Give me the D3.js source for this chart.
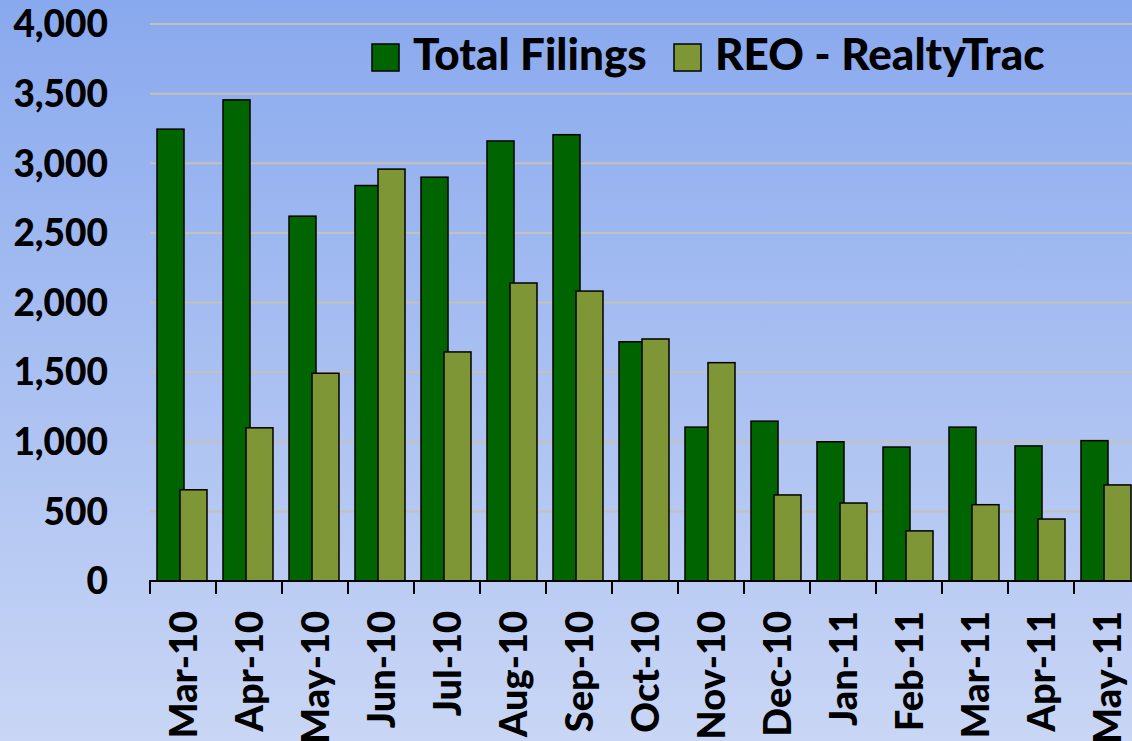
<!DOCTYPE html>
<html>
<head>
<script src="https://d3js.org/d3.v7.min.js"></script>
<style>
  body { margin: 0; overflow: hidden; }
  svg { display: block; font-family: Lato, "Open Sans", sans-serif; font-weight: 900; }
</style>
</head>
<body>
<script>
const months = ["Mar-10", "Apr-10", "May-10", "Jun-10", "Jul-10", "Aug-10", "Sep-10", "Oct-10",
                "Nov-10", "Dec-10", "Jan-11", "Feb-11", "Mar-11", "Apr-11", "May-11"];
const totalFilings = [3245, 3455, 2620, 2840, 2900, 3160, 3205, 1718, 1105, 1148, 1000, 962, 1105, 970, 1008];
const reoRealtyTrac = [655, 1100, 1492, 2958, 1645, 2140, 2082, 1738, 1568, 618, 560, 360, 548, 445, 690];
const yTicks = [0, 500, 1000, 1500, 2000, 2500, 3000, 3500, 4000];
const seriesNames = ["Total Filings", "REO - RealtyTrac"];
const colors = ["#006400", "#7f9636"];

const width = 1132, height = 741;
const plotLeft = 150, plotBottom = 581, plotTop = 24;

const svg = d3.select("body").append("svg")
    .attr("width", width)
    .attr("height", height);

const grad = svg.append("defs").append("linearGradient")
    .attr("id", "bg").attr("x1", 0).attr("y1", 0).attr("x2", 0).attr("y2", 1);
grad.append("stop").attr("offset", "0%").attr("stop-color", "#89a9ee");
grad.append("stop").attr("offset", "100%").attr("stop-color", "#c9d6f5");

svg.append("rect").attr("width", width).attr("height", height).attr("fill", "url(#bg)");

const x = d3.scaleBand()
    .domain(months)
    .range([plotLeft, plotLeft + 66 * months.length]);

const y = d3.scaleLinear()
    .domain([0, 4000])
    .range([plotBottom, plotTop]);

// gridlines
svg.append("g")
  .selectAll("line")
  .data(yTicks.filter(d => d > 0))
  .join("line")
    .attr("x1", plotLeft).attr("x2", width)
    .attr("y1", d => y(d)).attr("y2", d => y(d))
    .attr("stroke", "#c4c2b8")
    .attr("stroke-width", 2);

// y labels
svg.append("g")
  .selectAll("text")
  .data(yTicks)
  .join("text")
    .attr("x", 108)
    .attr("y", d => y(d))
    .attr("dy", "0.36em")
    .attr("text-anchor", "end")
    .attr("font-size", 37)
    .text(d => d3.format(",")(d));

// bars
const barW = 27;
const offsets = [7, 30];
const g = svg.append("g");
[totalFilings, reoRealtyTrac].forEach((vals, s) => {
  g.append("g")
    .selectAll("rect")
    .data(vals)
    .join("rect")
      .attr("x", (d, i) => x(months[i]) + offsets[s])
      .attr("y", d => y(d))
      .attr("width", barW)
      .attr("height", d => y(0) - y(d))
      .attr("fill", colors[s])
      .attr("stroke", "#000")
      .attr("stroke-width", 1.5);
});

// x axis
const ax = svg.append("g").attr("stroke", "#000").attr("stroke-width", 2);
ax.append("line").attr("x1", plotLeft - 1).attr("x2", width).attr("y1", plotBottom).attr("y2", plotBottom);
ax.selectAll("line.tick")
  .data(months)
  .join("line")
    .attr("class", "tick")
    .attr("x1", d => x(d)).attr("x2", d => x(d))
    .attr("y1", plotBottom).attr("y2", plotBottom + 13);

svg.append("g")
  .selectAll("text")
  .data(months)
  .join("text")
    .attr("transform", d => `translate(${x(d) + x.bandwidth() / 2},611) rotate(-90)`)
    .attr("dy", "0.36em")
    .attr("text-anchor", "end")
    .attr("font-size", 38)
    .text(d => d);

// legend
const legX = [372, 674];
const leg = svg.append("g");
seriesNames.forEach((name, i) => {
  leg.append("rect")
    .attr("x", legX[i]).attr("y", 44)
    .attr("width", 27).attr("height", 27)
    .attr("fill", colors[i])
    .attr("stroke", "#000").attr("stroke-width", 1.5);
  leg.append("text")
    .attr("x", legX[i] + 41).attr("y", 70)
    .attr("font-size", 44)
    .text(name);
});
</script>
</body>
</html>
